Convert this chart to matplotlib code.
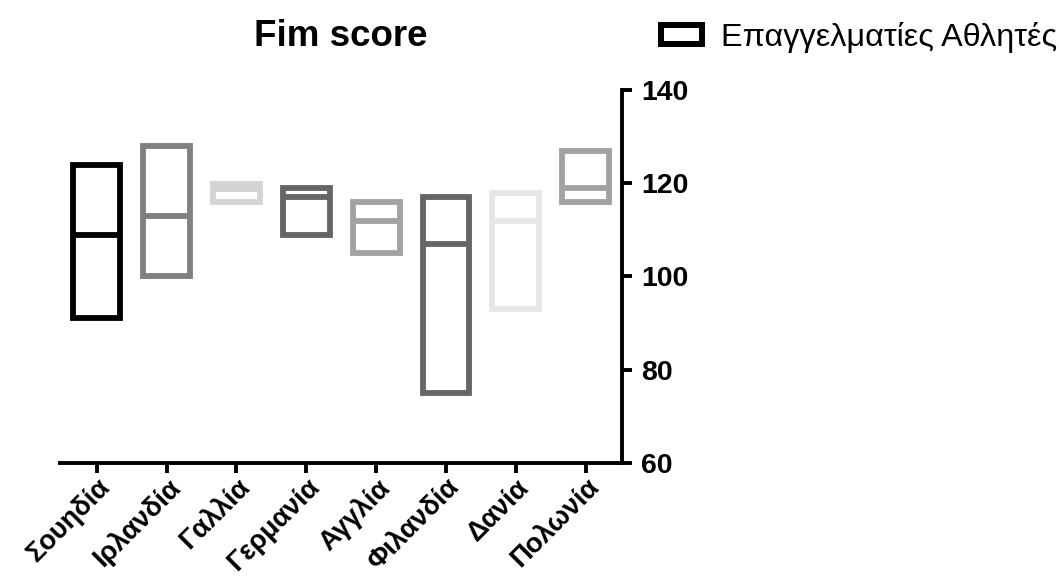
import matplotlib
matplotlib.use("Agg")
import matplotlib.pyplot as plt
from matplotlib.patches import Patch

plt.rcParams['font.family'] = ['Liberation Sans', 'DejaVu Sans']

countries = ['Σουηδία', 'Ιρλανδία', 'Γαλλία', 'Γερμανία', 'Αγγλία', 'Φιλανδία', 'Δανία', 'Πολωνία']
low = [91, 100, 116, 109, 105, 75, 93, 116]
mid = [109, 113, 118.7, 117, 112, 107, 112, 119]
high = [124, 128, 119.8, 119, 116, 117, 118, 127]
colors = ['#000000', '#808080', '#d4d4d4', '#666666', '#a2a2a6', '#666666', '#e6e6e6', '#a2a2a6']
yticks = [60, 80, 100, 120, 140]
series_name = 'Επαγγελματίες Αθλητές'

fig = plt.figure(figsize=(10.59, 5.77), dpi=100)
ax = fig.add_axes([60.5 / 1059, 1 - 463 / 577, (622 - 60.5) / 1059, (463 - 90) / 577])

x = list(range(len(countries)))
width = 0.67
lw = 4.2
heights = [h - l for h, l in zip(high, low)]
ax.bar(x, heights, bottom=low, width=width, fill=False, edgecolor=colors,
       linewidth=lw, joinstyle='miter', zorder=3)
for xi, m, c in zip(x, mid, colors):
    ax.plot([xi - width / 2, xi + width / 2], [m, m], color=c, linewidth=lw,
            solid_capstyle='butt', zorder=3)

ax.set_xlim(-0.52, 7.52)
ax.set_ylim(60, 140)
ax.set_yticks(yticks)
ax.set_xticks(x)
ax.set_xticklabels(countries, rotation=45, ha='right', rotation_mode='anchor',
                   fontsize=19.5, fontweight='bold')

ax.spines['left'].set_visible(False)
ax.spines['top'].set_visible(False)
ax.spines['right'].set_linewidth(2.8)
ax.spines['bottom'].set_linewidth(2.8)
ax.yaxis.tick_right()
ax.tick_params(axis='y', direction='out', length=7, width=2.8, labelsize=20.5, pad=7)
ax.tick_params(axis='x', direction='out', length=7, width=2.8, pad=1)
for lab in ax.get_yticklabels():
    lab.set_fontweight('bold')

ax.set_title('Fim score', fontsize=26.5, fontweight='bold', pad=32)

handle = Patch(facecolor='white', edgecolor='black', linewidth=4.3)
fig.legend([handle], [series_name], loc='upper left', bbox_to_anchor=(0.6245, 0.962),
           frameon=False, fontsize=23.3, handlelength=1.25, handleheight=0.5,
           handletextpad=0.6, borderpad=0, borderaxespad=0)

fig.savefig('out.png', dpi=100)
